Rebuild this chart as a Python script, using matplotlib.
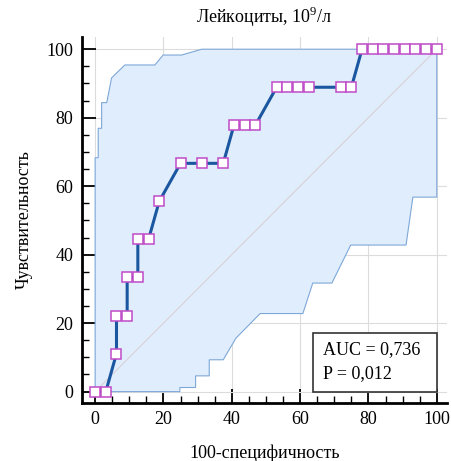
import numpy as np
import matplotlib.pyplot as plt
from matplotlib.patches import Rectangle
from matplotlib.ticker import MultipleLocator

plt.rcParams['font.family'] = ['Liberation Serif', 'DejaVu Serif']
plt.rcParams['mathtext.fontset'] = 'custom'
plt.rcParams['mathtext.rm'] = 'Liberation Serif'

# ROC points (100-specificity, sensitivity)
roc_x = [0, 3.125, 6.25, 6.25, 9.375, 9.375, 12.5, 12.5, 15.625, 18.75, 25.0,
         31.25, 37.5, 40.625, 43.75, 46.875, 53.125, 56.25, 59.375, 62.5,
         71.875, 75.0, 78.125, 81.25, 84.375, 87.5, 90.625, 93.75, 96.875, 100]
roc_y = [0, 0, 11.11, 22.22, 22.22, 33.33, 33.33, 44.44, 44.44, 55.56, 66.67,
         66.67, 66.67, 77.78, 77.78, 77.78, 88.89, 88.89, 88.89, 88.89,
         88.89, 88.89, 100, 100, 100, 100, 100, 100, 100, 100]

# confidence band
upper_x = [0, 0, 0.9, 0.9, 1.9, 1.9, 3.4, 4.8, 8.7, 17.5, 19.9, 25.3, 31.2, 100]
upper_y = [0, 68.3, 68.3, 76.9, 76.9, 84.4, 84.4, 91.6, 95.4, 95.4, 98.3, 98.3, 100, 100]
lower_x = [0, 24.8, 24.8, 29.4, 29.4, 33.4, 33.4, 37.5, 41.2, 48.3, 60.8, 63.7,
           69.3, 74.8, 91.0, 93.0, 100, 100]
lower_y = [0, 0, 1.2, 1.2, 4.6, 4.6, 9.3, 9.3, 15.6, 22.8, 22.8, 31.7,
           31.7, 42.8, 42.8, 56.8, 56.8, 100]

auc_lines = ['AUC = 0,736', 'P = 0,012']

fig = plt.figure(figsize=(4.52, 4.61), dpi=100)
ax = fig.add_axes([0.181, 0.126, 0.808, 0.794])

poly_x = upper_x + lower_x[::-1]
poly_y = upper_y + lower_y[::-1]
ax.fill(poly_x, poly_y, color='#e0edfc', zorder=1, lw=0)
ax.plot(upper_x, upper_y, color='#7ea8d8', lw=0.8, zorder=2)
ax.plot(lower_x, lower_y, color='#7ea8d8', lw=0.8, zorder=2)

ax.plot([0, 100], [0, 100], color='#d8cdd2', lw=0.7, zorder=2)

ax.plot(roc_x, roc_y, color='#1a57a0', lw=2.2, zorder=3,
        marker='s', markersize=7.5, markerfacecolor='white',
        markeredgecolor='#c04cc8', markeredgewidth=1.1)

ax.set_xlim(-3.9, 103)
ax.set_ylim(-3.3, 103.6)
ax.xaxis.set_major_locator(MultipleLocator(20))
ax.yaxis.set_major_locator(MultipleLocator(20))
ax.xaxis.set_minor_locator(MultipleLocator(5))
ax.yaxis.set_minor_locator(MultipleLocator(5))
ax.grid(True, which='major', color='#dcdcdc', lw=0.8, zorder=0)
ax.set_axisbelow(True)

for s in ['top', 'right']:
    ax.spines[s].set_visible(False)
for s in ['left', 'bottom']:
    ax.spines[s].set_linewidth(2)
ax.tick_params(which='major', direction='in', length=10, width=1.3,
               labelsize=13, pad=6)
ax.tick_params(which='minor', direction='in', length=5, width=1)

ax.set_title('Лейкоциты, 10$^{9}$/л', fontsize=13, pad=10)
ax.set_xlabel('100-специфичность', fontsize=13, labelpad=12)
ax.set_ylabel('Чувствительность', fontsize=13, labelpad=10)

# AUC box
ax.add_patch(Rectangle((0.633, 0.030), 0.340, 0.161, transform=ax.transAxes,
                       facecolor='white', edgecolor='#333333', lw=1.2, zorder=5))
ax.text(0.66, 0.145, auc_lines[0], transform=ax.transAxes, fontsize=13,
        va='center', ha='left', zorder=6)
ax.text(0.66, 0.079, auc_lines[1], transform=ax.transAxes, fontsize=13,
        va='center', ha='left', zorder=6)

fig.savefig('out.png', dpi=100)
